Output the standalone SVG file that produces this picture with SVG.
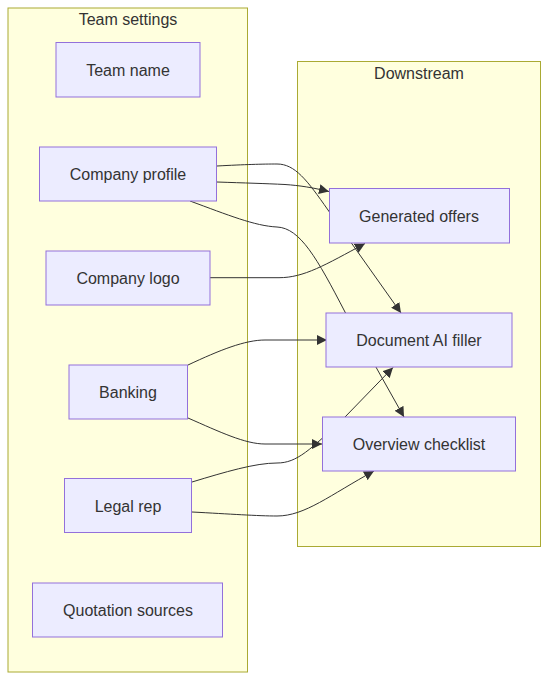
<svg xmlns="http://www.w3.org/2000/svg" width="548" height="680" viewBox="0 0 548 680">
<style>
.cluster rect{fill:#ffffde;stroke:#aaaa33;stroke-width:1}
.node rect{fill:#ececff;stroke:#9370db;stroke-width:1}
text{font-family:"Liberation Sans",Arial,sans-serif;font-size:16px;fill:#333333;text-anchor:middle;dominant-baseline:central}
.edges path{fill:none;stroke:#333333;stroke-width:1;marker-end:url(#arrow)}
</style>
<defs>
<marker id="arrow" viewBox="0 0 10 10" refX="10" refY="5" markerUnits="userSpaceOnUse" markerWidth="10" markerHeight="10" orient="auto">
<path d="M0,0 L10,5 L0,10 z" fill="#333333"/>
</marker>
</defs>
<rect width="548" height="680" fill="#ffffff"/>
<g id="cluster-team" class="cluster">
<rect x="8" y="8" width="239.5" height="664"/>
<text x="128" y="19">Team settings</text>
</g>
<g id="cluster-downstream" class="cluster">
<rect x="297.5" y="61.5" width="243" height="485"/>
<text x="419" y="73">Downstream</text>
</g>
<g id="connectors" class="edges">
<path d="M217,166 C245,164.5 262,164 277,164 C295,164 307,180 328,210 L401,313"/>
<path d="M217,182 C245,183 265,183.5 285,184.5 C300,185.5 312,187.5 329,191.5"/>
<path d="M190,201 C228,215 255,226 277,227 C300,228 317,258 345,312 L404,417"/>
<path d="M210,277.7 L279,277.7 C304,277.7 325,265 365,243.5"/>
<path d="M188,365 C220,350 245,340 265,340 L327,340"/>
<path d="M188,418 C220,432 245,444 265,444 L322,444"/>
<path d="M192,482 C225,472 255,463 277,463 C297,463 310,450 345,417 L393,367.5"/>
<path d="M192,512 C230,514 258,516 277,516 C305,516 330,495 374,471"/>
</g>
<g id="node-team-name" class="node">
<rect x="56" y="42.5" width="144" height="54.5"/>
<text x="128" y="70">Team name</text>
</g>
<g id="node-company-profile" class="node">
<rect x="39.5" y="147" width="177" height="54"/>
<text x="128" y="174">Company profile</text>
</g>
<g id="node-company-logo" class="node">
<rect x="46" y="251" width="164" height="54"/>
<text x="128" y="278">Company logo</text>
</g>
<g id="node-banking" class="node">
<rect x="69" y="365" width="118.5" height="54"/>
<text x="128" y="392">Banking</text>
</g>
<g id="node-legal-rep" class="node">
<rect x="64.5" y="478.5" width="127" height="54"/>
<text x="128" y="506">Legal rep</text>
</g>
<g id="node-quotation-sources" class="node">
<rect x="32.5" y="583" width="190" height="54"/>
<text x="128" y="610">Quotation sources</text>
</g>
<g id="node-generated-offers" class="node">
<rect x="329.5" y="188.5" width="180" height="54.5"/>
<text x="419" y="216">Generated offers</text>
</g>
<g id="node-document-ai-filler" class="node">
<rect x="326" y="313" width="186" height="54"/>
<text x="419" y="340">Document AI filler</text>
</g>
<g id="node-overview-checklist" class="node">
<rect x="322.5" y="417" width="193" height="54"/>
<text x="419" y="444">Overview checklist</text>
</g>
</svg>
